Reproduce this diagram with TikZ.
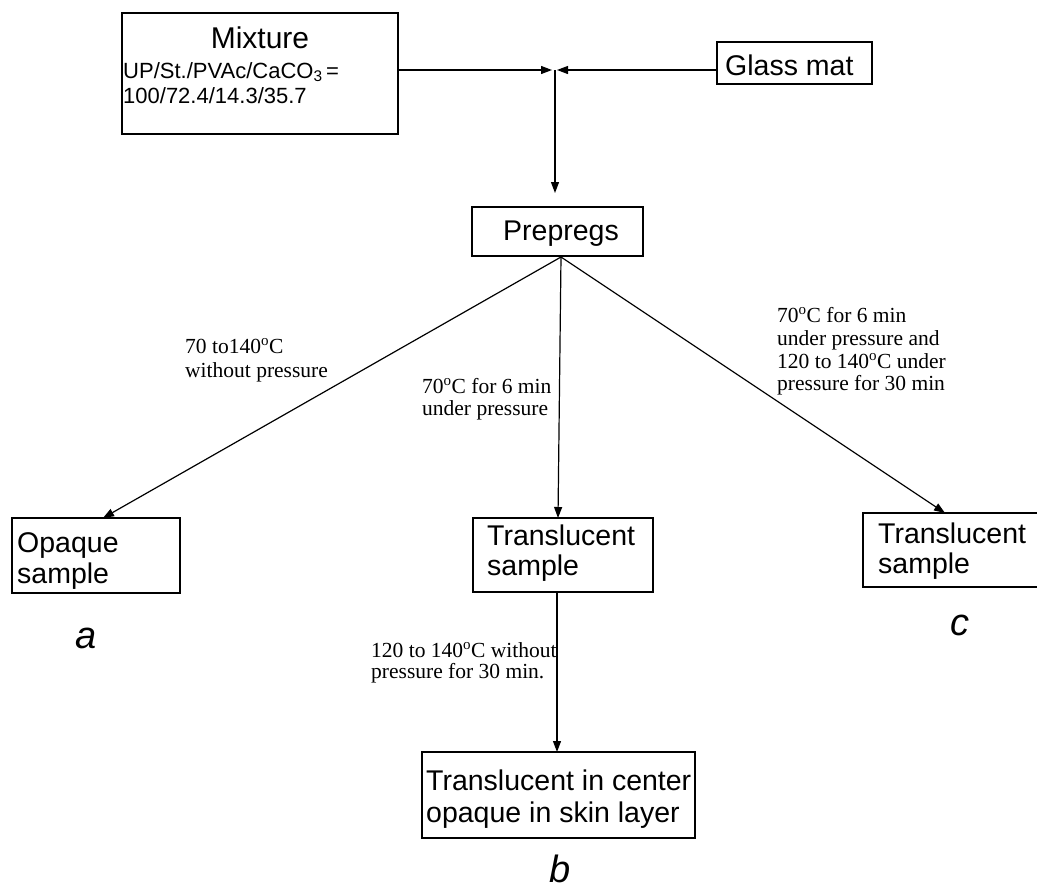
\documentclass[tikz,border=0pt]{standalone}
\usepackage{fontspec}
\setmainfont{Liberation Serif}
\setsansfont{Liberation Sans}
\usetikzlibrary{arrows.meta}
\newcommand{\bxf}{\sffamily\fontsize{28.5}{31}\selectfont}
\newcommand{\lbf}{\rmfamily\fontsize{21.5}{23}\selectfont}
\newcommand{\dgC}{\textsuperscript{o}C}
\tikzset{
  box/.style={draw, line width=1.2pt, inner sep=0pt},
  conn/.style={line width=1.2pt, -{Triangle[length=11pt,width=8pt]}},
  boxtxt/.style={font=\bxf, anchor=base west, inner sep=0pt},
  mixsub/.style={font=\sffamily\fontsize{22}{25}\selectfont, anchor=base west, inner sep=0pt},
  lab/.style={font=\lbf, anchor=base west, inner sep=0pt, align=left},
  letter/.style={font=\sffamily\itshape\fontsize{38}{40}\selectfont, anchor=base, inner sep=0pt}
}
\begin{document}
\begin{tikzpicture}[x=1pt,y=-1pt]
\useasboundingbox (0,0) rectangle (1037,889);
% boxes
\node[box, minimum width=276pt, minimum height=121pt] (mix) at (260,73.5) {};
\node[font=\sffamily\fontsize{30}{33}\selectfont, anchor=base, inner sep=0pt] (mixt) at (260,48) {Mixture};
\node[mixsub] (mix1) at (123,78) {UP/St./PVAc/CaCO\textsubscript{3}\,=};
\node[mixsub] (mix2) at (123,103) {100/72.4/14.3/35.7};

\node[box, minimum width=155pt, minimum height=42pt] (glass) at (794.5,63) {};
\node[boxtxt] (glasst) at (725,75) {Glass mat};

\node[box, minimum width=171pt, minimum height=49pt] (prep) at (557.5,231.5) {};
\node[boxtxt] (prept) at (503,240) {Prepregs};

\node[box, minimum width=168pt, minimum height=75pt] (opq) at (96,555.5) {};
\node[boxtxt] (opq1) at (17,552) {Opaque};
\node[boxtxt] (opq2) at (17,583) {sample};

\node[box, minimum width=180pt, minimum height=74pt] (tmid) at (563,555) {};
\node[boxtxt] (tmid1) at (487,545) {Translucent};
\node[boxtxt] (tmid2) at (487,575) {sample};

\node[box, minimum width=185pt, minimum height=74pt] (tr) at (955.5,550) {};
\node[boxtxt] (tr1) at (878,543) {Translucent};
\node[boxtxt] (tr2) at (878,573) {sample};

\node[box, minimum width=273pt, minimum height=86pt] (bot) at (558.5,795) {};
\node[boxtxt] (bot1) at (426,790) {Translucent in center};
\node[boxtxt] (bot2) at (426,822) {opaque in skin layer};

% letters
\node[letter] (la) at (86,648) {a};
\node[letter] (lb) at (560,882) {b};
\node[letter] (lc) at (960,635) {c};

% junction
\coordinate (j) at (555,70);
\coordinate (jl) at (552,70);
\coordinate (jr) at (557,70);
\coordinate (pin) at (555,193);
\draw[conn] (mix.east |- jl) -- (jl);
\draw[conn] (glass.west |- jr) -- (jr);
\draw[conn] (j) -- (pin);

% branches
\coordinate (po) at (561,257);
\draw[conn] (po) -- (103,518);
\draw[conn] (po) -- (558,518);
\draw[conn] (po) -- (945,513);
\draw[conn] (tmid.south -| 557,0) -- (557,752);

% labels
\node[lab] (l1a) at (185,353) {70 to140\dgC};
\node[lab] (l1b) at (185,377) {without pressure};
\node[lab] (l2a) at (422,393) {70\dgC{} for 6 min};
\node[lab] (l2b) at (422,415) {under pressure};
\node[lab] (l3a) at (777,322) {70\dgC{} for 6 min};
\node[lab] (l3b) at (777,345) {under pressure and};
\node[lab] (l3c) at (777,368) {120 to 140\dgC{} under};
\node[lab] (l3d) at (777,390) {pressure for 30 min};
\node[lab] (l4a) at (371,657) {120 to 140\dgC{} without};
\node[lab] (l4b) at (371,678) {pressure for 30 min.};
\end{tikzpicture}
\end{document}
